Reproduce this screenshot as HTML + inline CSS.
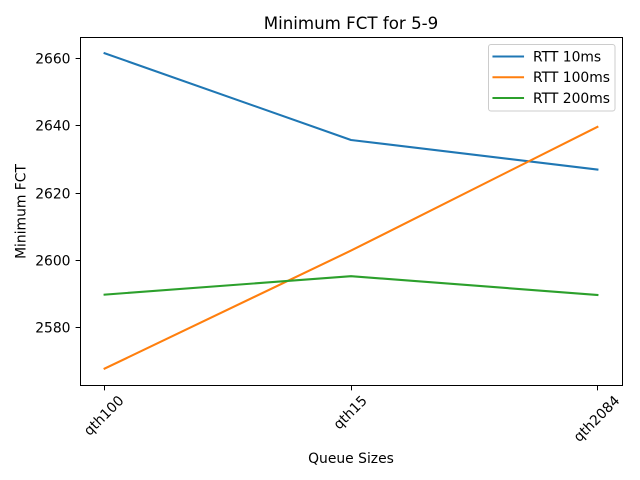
<!DOCTYPE html>
<html>
<head>
<meta charset="utf-8">
<title>Minimum FCT for 5-9</title>
<style>
html,body{margin:0;padding:0;background:#fff;width:640px;height:480px;overflow:hidden}
svg{display:block}
text{font-family:"DejaVu Sans",sans-serif;fill:#000}
</style>
</head>
<body>
<svg id="chart" width="640" height="480" viewBox="0 0 640 480" xmlns="http://www.w3.org/2000/svg">
<rect width="640" height="480" fill="#fff"/>
<text x="351" y="29" text-anchor="middle" font-size="16.67">Minimum FCT for 5-9</text>
<text x="351" y="463" text-anchor="middle" font-size="13.89">Queue Sizes</text>
<text transform="translate(25.5 211.5) rotate(-90)" text-anchor="middle" font-size="13.89">Minimum FCT</text>
<g id="series-layer"></g>
<g id="ticks-layer"></g>
<rect x="80.5" y="37.5" width="542" height="348" fill="none" stroke="#000" stroke-width="1"/>
<g id="legend">
<rect x="488.5" y="44.5" width="126.5" height="66.5" rx="2.5" fill="#fff" fill-opacity="0.8" stroke="#ccc" stroke-width="1"/>
</g>
</svg>
<script>
const categories = ['qth100', 'qth15', 'qth2084'];
const seriesNames = ['RTT 10ms', 'RTT 100ms', 'RTT 200ms'];
const rtt10Values = [2661.6, 2635.8, 2627.0];
const rtt100Values = [2567.8, 2602.9, 2639.7];
const rtt200Values = [2589.8, 2595.3, 2589.7];
const yTickValues = [2580, 2600, 2620, 2640, 2660];

const allSeries = [rtt10Values, rtt100Values, rtt200Values];
const colors = ['#1f77b4', '#ff7f0e', '#2ca02c'];
const NS = 'http://www.w3.org/2000/svg';

function xScale(i) {
  return 104.6 + i * (597.4 - 104.6) / (categories.length - 1);
}
function yScale(v) {
  return 327.6 - (v - 2580) * 3.3625;
}
function make(tag, attrs, parent) {
  const el = document.createElementNS(NS, tag);
  for (const k in attrs) el.setAttribute(k, attrs[k]);
  parent.appendChild(el);
  return el;
}

const seriesLayer = document.getElementById('series-layer');
const ticksLayer = document.getElementById('ticks-layer');
const legend = document.getElementById('legend');

allSeries.forEach(function (values, s) {
  const pts = values.map(function (v, i) { return xScale(i) + ',' + yScale(v); }).join(' ');
  const line = make('polyline', { points: pts, fill: 'none', stroke: colors[s], 'stroke-width': 2.08, 'stroke-linecap': 'square', 'stroke-linejoin': 'round' }, seriesLayer);
  
  
});

yTickValues.forEach(function (v) {
  const y = Math.floor(yScale(v)) + 0.5;
  const tick = make('line', { x1: 80.5, x2: 75.6, y1: y, y2: y, stroke: '#000', 'stroke-width': 1 }, ticksLayer);
  
  
  const label = make('text', { x: 70.5, y: y + 4.9, 'text-anchor': 'end', 'font-size': 13.89 }, ticksLayer);
  label.textContent = String(v);
  
  
});

categories.forEach(function (c, i) {
  const x = xScale(i);
  const tx = Math.floor(x) + 0.5;
  const tick = make('line', { x1: tx, x2: tx, y1: 385.5, y2: 390.4, stroke: '#000', 'stroke-width': 1 }, ticksLayer);
  
  
  const label = make('text', { x: 0, y: 0, 'text-anchor': 'middle', 'font-size': 13.89 }, ticksLayer);
  label.textContent = c;
  
  
  const w = label.getComputedTextLength();
  const half = (w + 13) * Math.SQRT1_2 / 2;
  label.setAttribute('transform', 'translate(' + (x - 0.8) + ' ' + (393.5 + half) + ') rotate(-45) translate(0 4.6)');
});

seriesNames.forEach(function (name, s) {
  const y = 56.5 + s * 20.75;
  const handle = make('line', { x1: 493.5, x2: 523, y1: y, y2: y, stroke: colors[s], 'stroke-width': 2.08, 'stroke-linecap': 'square' }, legend);
  
  
  const label = make('text', { x: 533, y: y + 4.9, 'font-size': 13.89 }, legend);
  label.textContent = name;
  
  
});
</script>
</body>
</html>
